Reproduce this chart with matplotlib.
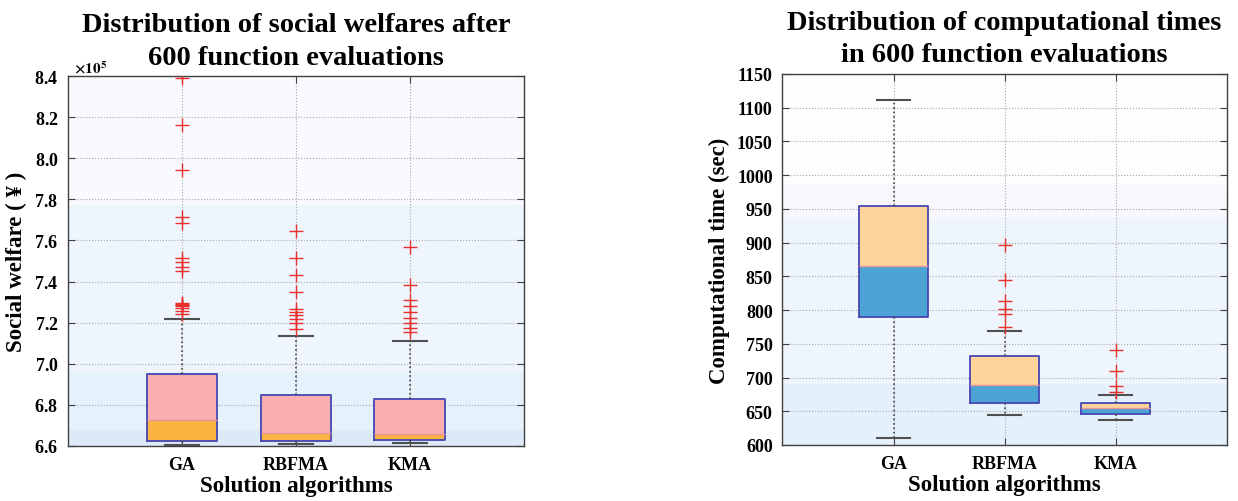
import numpy as np
import matplotlib.pyplot as plt
from matplotlib.ticker import ScalarFormatter

plt.rcParams['font.family'] = ['Liberation Serif', 'Noto Sans CJK SC']
plt.rcParams['font.weight'] = 'bold'
plt.rcParams['mathtext.fontset'] = 'stix'

algorithms = ['GA', 'RBFMA', 'KMA']

# social welfare (x1e5)
sw_lo = [6.605, 6.610, 6.613]
sw_q1 = [6.625, 6.625, 6.630]
sw_med = [6.727, 6.664, 6.659]
sw_q3 = [6.951, 6.850, 6.829]
sw_hi = [7.217, 7.134, 7.110]
sw_out_ga = [8.39, 8.16, 7.945, 7.715, 7.685, 7.515, 7.495, 7.47, 7.45,
             7.295, 7.29, 7.285, 7.28, 7.27, 7.255, 7.24]
sw_out_rbfma = [7.645, 7.513, 7.432, 7.348, 7.265, 7.25, 7.235, 7.22, 7.20, 7.17]
sw_out_kma = [7.57, 7.385, 7.31, 7.28, 7.25, 7.225, 7.20, 7.175, 7.155]

# computational time (sec)
ct_lo = [610, 644.5, 637]
ct_q1 = [789, 662, 646.5]
ct_med = [866, 689, 655]
ct_q3 = [955, 731.5, 662]
ct_hi = [1112, 769.5, 674]
ct_out_ga = []
ct_out_rbfma = [897, 845, 814, 802, 794, 774.5]
ct_out_kma = [741, 709, 688, 679]


def draw(ax, lo, q1, med, q3, hi, fliers, c_low, c_up, scale=1.0):
    pos = np.arange(1, len(algorithms) + 1)
    lo, q1, med, q3, hi = [np.array(a) * scale for a in (lo, q1, med, q3, hi)]
    w = 0.62
    ax.bar(pos, med - q1, bottom=q1, width=w, color=c_low, linewidth=0, zorder=2)
    ax.bar(pos, q3 - med, bottom=med, width=w, color=c_up, linewidth=0, zorder=2)
    stats = []
    for i in range(len(pos)):
        stats.append(dict(med=med[i], q1=q1[i], q3=q3[i], whislo=lo[i], whishi=hi[i],
                          fliers=np.array(fliers[i]) * scale))
    ax.bxp(stats, positions=pos, widths=w, capwidths=0.3, zorder=3,
           boxprops=dict(color='#4646B4', linewidth=1.3),
           medianprops=dict(color='#E8959A', linewidth=1.0),
           whiskerprops=dict(color='#454545', linewidth=1.2, linestyle=':'),
           capprops=dict(color='#505050', linewidth=1.5),
           flierprops=dict(marker='+', markeredgecolor='#E8312F', markersize=10,
                           markeredgewidth=1.0, linestyle='none'))
    ax.set_xlim(0, 4)
    ax.set_xticks(pos)
    ax.set_xticklabels(algorithms)
    ax.grid(True, linestyle=':', color='#A8A8A8', linewidth=0.8)
    ax.set_axisbelow(True)
    ax.tick_params(direction='in', top=True, right=True, length=5,
                   labelsize=13, pad=7, color='#404040')
    for s in ax.spines.values():
        s.set_color('#404040')
        s.set_linewidth(1.0)


def bands(ax, edges, colors):
    for (a, b), c in zip(zip(edges[:-1], edges[1:]), colors):
        ax.axhspan(a, b, color=c, linewidth=0, zorder=0.1)


def title2(ax, line1, line2):
    # two title lines drawn separately so the short second line keeps a narrow box
    ax.set_title(line2, fontsize=20.5, fontweight='bold', pad=9, y=1.0)
    ax.annotate(line1, xy=(0.5, 1.0), xycoords='axes fraction',
                xytext=(0, 9 + 23.5), textcoords='offset points',
                ha='center', va='baseline', fontsize=20.5, fontweight='bold')


fig = plt.figure(figsize=(12.38, 5.02), dpi=100)
ax1 = fig.add_axes([0.055, 0.1096, 0.368, 0.737])
ax2 = fig.add_axes([0.632, 0.1116, 0.359, 0.739])

bands(ax1, [6.6e5, 6.68e5, 6.96e5, 7.77e5, 8.4e5],
      ['#DCEAF8', '#E5F1FB', '#EEF5FC', '#FAF9FE'])
draw(ax1, sw_lo, sw_q1, sw_med, sw_q3, sw_hi,
     [sw_out_ga, sw_out_rbfma, sw_out_kma], '#FBB441', '#F9AFAF', scale=1e5)
ax1.set_ylim(6.6e5, 8.4e5)
ax1.set_yticks(np.arange(6.6e5, 8.41e5, 0.2e5))
fmt = ScalarFormatter(useMathText=True)
fmt.set_powerlimits((0, 0))
ax1.yaxis.set_major_formatter(fmt)
ax1.yaxis.get_offset_text().set_visible(False)
ax1.text(0.012, 1.0, r'$\times10^{5}$', transform=ax1.transAxes,
         fontsize=11, ha='left', va='bottom')
ax1.set_ylabel('Social welfare ( ¥ )', fontsize=16.5, fontweight='bold', labelpad=5)
ax1.set_xlabel('Solution algorithms', fontsize=16.5, fontweight='bold', labelpad=2)
title2(ax1, 'Distribution of social welfares after', '600 function evaluations')

bands(ax2, [600, 690, 936, 985, 1150],
      ['#E4F0FB', '#EEF5FC', '#F8F7FD', '#FDFCFE'])
draw(ax2, ct_lo, ct_q1, ct_med, ct_q3, ct_hi,
     [ct_out_ga, ct_out_rbfma, ct_out_kma], '#4BA4D3', '#FED49A')
ax2.set_ylim(600, 1150)
ax2.set_yticks(np.arange(600, 1151, 50))
ax2.set_ylabel('Computational time (sec)', fontsize=16.5, fontweight='bold', labelpad=5)
ax2.set_xlabel('Solution algorithms', fontsize=16.5, fontweight='bold', labelpad=2)
title2(ax2, 'Distribution of computational times', 'in 600 function evaluations')

fig.savefig('out.png', dpi=100)
